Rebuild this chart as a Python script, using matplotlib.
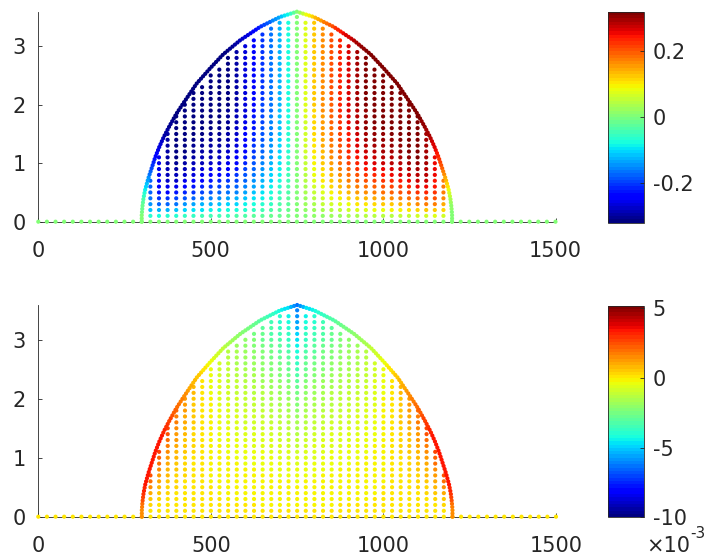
import numpy as np
import matplotlib
matplotlib.use('Agg')
import matplotlib.pyplot as plt

plt.rcParams['font.family'] = ['DejaVu Sans']
plt.rcParams['axes.unicode_minus'] = False

# dome surface: distance from the divide -> height
divide_x = 750
surf_r = [0, 49, 107, 165, 214, 252, 291, 330, 350, 370, 386, 399, 411, 421, 431, 440, 445, 448, 450, 450]
surf_h = [3.59, 3.50, 3.33, 3.10, 2.86, 2.62, 2.36, 2.02, 1.84, 1.63, 1.45, 1.28, 1.10, 0.92, 0.74, 0.55, 0.40, 0.26, 0.12, 0.0]

# bed nodes and interior columns (top row of each column)
bed_x = list(range(0, 1501, 25))
col_x = list(range(325, 1176, 25))
col_top = [0.7, 1.1, 1.5, 1.8, 2.0, 2.2, 2.3, 2.5, 2.6, 2.8, 2.9, 3.0, 3.1, 3.2, 3.3, 3.4, 3.4, 3.5,
           3.4, 3.4, 3.3, 3.2, 3.1, 3.0, 2.9, 2.8, 2.6, 2.5, 2.3, 2.2, 2.0, 1.8, 1.5, 1.1, 0.7]

# surface value of the horizontal velocity along x
u_x = [300, 305, 312, 320, 330, 345, 365, 400, 540, 570, 600, 640, 680, 720, 750,
       780, 820, 860, 900, 930, 960, 1100, 1135, 1155, 1170, 1180, 1188, 1195, 1200]
u_s = [0.0, -0.04, -0.10, -0.15, -0.20, -0.25, -0.29, -0.32, -0.32, -0.30, -0.27, -0.22, -0.16, -0.09, 0.0,
       0.09, 0.16, 0.22, 0.27, 0.30, 0.32, 0.32, 0.29, 0.25, 0.20, 0.15, 0.10, 0.04, 0.0]
u_lim = (-0.32, 0.32)

# surface value of the vertical velocity along x
w_x = [300, 304, 312, 350, 372, 392, 420, 460, 500, 540, 590, 640, 690, 725, 750,
       775, 810, 860, 910, 960, 1000, 1040, 1080, 1108, 1128, 1150, 1188, 1196, 1200]
w_s = [0.0015, 0.003, 0.0035, 0.0035, 0.003, 0.0023, 0.0016, 0.0006, -0.0004, -0.0013, -0.0022, -0.003, -0.004, -0.0048, -0.0064,
       -0.0048, -0.004, -0.003, -0.0022, -0.0013, -0.0004, 0.0006, 0.0016, 0.0023, 0.003, 0.0035, 0.0035, 0.003, 0.0015]
w_lim = (-0.010, 0.0052)

# shape of the velocity profiles with relative height
u_power = 4
w_power = 1.7

prof_x = np.concatenate([divide_x - np.array(surf_r[::-1]), divide_x + np.array(surf_r[1:])])
prof_h = np.concatenate([np.array(surf_h[::-1]), np.array(surf_h[1:])])
n_half = len(surf_r)

W, H = 711, 555
fig = plt.figure(figsize=(W / 100, H / 100), dpi=100)
ax1 = fig.add_axes([38.3 / W, 1 - 221.7 / H, 517.2 / W, 210.0 / H])
cax1 = fig.add_axes([608.3 / W, 1 - 222.7 / H, 36 / W, 211.0 / H])
ax2 = fig.add_axes([38.3 / W, 1 - 516.7 / H, 517.7 / W, 211.7 / H])
cax2 = fig.add_axes([608.3 / W, 1 - 517.3 / H, 36 / W, 211.6 / H])

# surface nodes: evenly spaced along the drawn curve
sx_px = 517.2 / 1500
sy_px = 210.0 / 3.59
seg = np.hypot(np.diff(prof_x) * sx_px, np.diff(prof_h) * sy_px)
arc = np.concatenate([[0], np.cumsum(seg)])
s = np.linspace(0, arc[-1], int(arc[-1] / 3.2) + 1)
surf_px = np.interp(s, arc, prof_x)
surf_py = np.interp(s, arc, prof_h)

# interior nodes
px, py, pu, pw = [], [], [], []
for x in bed_x:
    px.append(x); py.append(0.0); pu.append(0.0); pw.append(0.0)
for x, top in zip(col_x, col_top):
    if x <= divide_x:
        h = np.interp(x, prof_x[:n_half], prof_h[:n_half])
    else:
        h = np.interp(x, prof_x[n_half - 1:], prof_h[n_half - 1:])
    us = np.interp(x, u_x, u_s)
    ws = np.interp(x, w_x, w_s)
    for k in range(1, int(round(top * 10)) + 1):
        z = k / 10
        zeta = min(z / h, 1.0)
        px.append(x); py.append(z)
        pu.append(us * (1 - (1 - zeta) ** u_power))
        pw.append(ws * zeta ** w_power)

px = np.concatenate([px, surf_px])
py = np.concatenate([py, surf_py])
pu = np.concatenate([pu, np.interp(surf_px, u_x, u_s)])
pw = np.concatenate([pw, np.interp(surf_px, w_x, w_s)])

cmap = plt.get_cmap('jet', 64)
axis_col = '0.15'
fs = 15

def style(ax, ylim):
    ax.set_xlim(0, 1500)
    ax.set_ylim(0, ylim)
    ax.set_xticks([0, 500, 1000, 1500])
    ax.set_yticks([0, 1, 2, 3])
    for sp in ['top', 'right']:
        ax.spines[sp].set_visible(False)
    for sp in ['left', 'bottom']:
        ax.spines[sp].set_color(axis_col)
        ax.spines[sp].set_linewidth(0.6)
    ax.tick_params(direction='in', length=3, width=0.6, color=axis_col, labelsize=fs,
                   labelcolor='0.15')
    ax.tick_params(axis='x', pad=14)
    ax.tick_params(axis='y', pad=9)

def style_cbar(cb, cax):
    cb.outline.set_edgecolor(axis_col)
    cb.outline.set_linewidth(0.6)
    cax.tick_params(direction='in', length=3, width=0.6, color=axis_col, labelsize=fs,
                    labelcolor='0.15', pad=6)

sc1 = ax1.scatter(px, py, c=pu, cmap=cmap, vmin=u_lim[0], vmax=u_lim[1], s=9,
                  linewidths=0, clip_on=False, zorder=3)
style(ax1, 3.59)
cb1 = fig.colorbar(sc1, cax=cax1, ticks=[-0.2, 0, 0.2])
cb1.ax.set_yticklabels(['-0.2', '0', '0.2'])
style_cbar(cb1, cax1)

sc2 = ax2.scatter(px, py, c=pw, cmap=cmap, vmin=w_lim[0], vmax=w_lim[1], s=9,
                  linewidths=0, clip_on=False, zorder=3)
style(ax2, 3.59)
cb2 = fig.colorbar(sc2, cax=cax2, ticks=[-0.010, -0.005, 0, 0.005])
cb2.ax.set_yticklabels(['-10', '-5', '0', '5'])
style_cbar(cb2, cax2)

fig.text(646 / W, 1 - 552 / H, '\u00d710', fontsize=fs, color='0.15', ha='left', va='baseline')
fig.text(690 / W, 1 - 538 / H, '-3', fontsize=11, color='0.15', ha='left', va='baseline')

fig.savefig('out.png', dpi=100)
